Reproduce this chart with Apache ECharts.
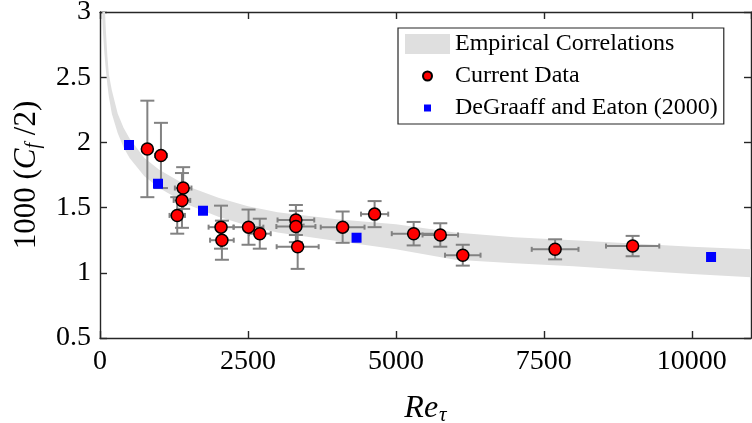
<!DOCTYPE html>
<html>
<head>
<meta charset="utf-8">
<script src="https://cdn.jsdelivr.net/npm/echarts@6/dist/echarts.min.js"></script>
<style>
  html, body { margin: 0; padding: 0; background: #fff; }
  #main { width: 752px; height: 423px; }
</style>
</head>
<body>
<div id="main"></div>
<script>
// Current data (Re_tau, 1000 Cf/2) with error bars
var reTau = [800, 1030, 1405, 1385, 1305, 2045, 2060, 2510, 2700, 3310, 3310, 3340, 4100, 4640, 5300, 5750, 6130, 7690, 9000]
var cfCur = [1.95, 1.90, 1.65, 1.555, 1.44, 1.35, 1.25, 1.35, 1.30, 1.405, 1.355, 1.20, 1.35, 1.45, 1.30, 1.29, 1.135, 1.18, 1.205]
var reErr = [80, 100, 140, 140, 130, 210, 200, 250, 185, 310, 330, 355, 370, 230, 370, 300, 300, 395, 450]
var cfErr = [0.37, 0.25, 0.16, 0.21, 0.14, 0.165, 0.15, 0.135, 0.115, 0.115, 0.12, 0.17, 0.12, 0.10, 0.09, 0.09, 0.08, 0.077, 0.078]

// DeGraaff and Eaton (2000)
var reDE = [490, 980, 1740, 4335, 10325]
var cfDE = [1.98, 1.683, 1.476, 1.269, 1.121]

// empirical correlations band
var bandRe = [40, 50, 60, 75, 100, 125, 150, 200, 300, 400, 500, 750, 1000, 1500, 2000, 2500, 3000, 4000, 5000, 6000, 7000, 8000, 9000, 10000, 11000]
var bandHi = [3.6, 3.4, 3.25, 3.1, 2.85, 2.66, 2.52, 2.4, 2.22, 2.11, 2.03, 1.88, 1.79, 1.66, 1.575, 1.51, 1.465, 1.41, 1.372, 1.31, 1.272, 1.25, 1.225, 1.2, 1.18]
var bandLo = [2.95, 2.85, 2.78, 2.68, 2.55, 2.44, 2.35, 2.22, 2.07, 1.96, 1.88, 1.74, 1.65, 1.52, 1.43, 1.36, 1.31, 1.244, 1.18, 1.1, 1.073, 1.05, 1.02, 0.99, 0.965]

var xTicks = [0, 2500, 5000, 7500, 10000]

var FONT = 'Liberation Serif'
var AXIS_COLOR = '#262626'

var myChart = echarts.init(document.getElementById('main'), null, { renderer: 'canvas' })

function renderBand(params, api) {
  if (params.dataIndex !== 0) return
  var pts = []
  for (var i = 0; i < bandRe.length; i++) pts.push(api.coord([bandRe[i], bandHi[i]]))
  for (var j = bandRe.length - 1; j >= 0; j--) pts.push(api.coord([bandRe[j], bandLo[j]]))
  var cs = params.coordSys
  return {
    type: 'polygon',
    shape: { points: pts },
    style: { fill: '#dfdfdf' },
    clipPath: { type: 'rect', shape: { x: cs.x, y: cs.y, width: cs.width, height: cs.height } }
  }
}

function renderErr(params, api) {
  var x = api.value(0)
  var y = api.value(1)
  var dx = api.value(2)
  var dy = api.value(3)
  var top = api.coord([x, y + dy])
  var bot = api.coord([x, y - dy])
  var lft = api.coord([x - dx, y])
  var rgt = api.coord([x + dx, y])
  var capW = 7 // half width of the caps on vertical bars
  var capH = 2.5 // half height of the caps on horizontal bars
  var style = { stroke: '#828282', lineWidth: 2 }
  function seg(x1, y1, x2, y2) {
    return { type: 'line', shape: { x1: x1, y1: y1, x2: x2, y2: y2 }, style: style }
  }
  return {
    type: 'group',
    children: [
      seg(lft[0], lft[1], rgt[0], rgt[1]),
      seg(lft[0], lft[1] - capH, lft[0], lft[1] + capH),
      seg(rgt[0], rgt[1] - capH, rgt[0], rgt[1] + capH),
      seg(top[0], top[1], bot[0], bot[1]),
      seg(top[0] - capW, top[1], top[0] + capW, top[1]),
      seg(bot[0] - capW, bot[1], bot[0] + capW, bot[1])
    ]
  }
}

var axisLine = { show: true, onZero: false, lineStyle: { color: AXIS_COLOR, width: 1.4 } }
var axisTick = { show: true, inside: true, length: 7, lineStyle: { color: AXIS_COLOR, width: 1.4 } }

var option = {
  animation: false,
  backgroundColor: '#fff',
  // keep the plot box fixed, labels may sit close to the edges
  grid: { left: 100, right: 1, top: 12, bottom: 85, outerBoundsMode: 'none' },
  legend: {
    orient: 'vertical',
    left: 398,
    top: 28,
    padding: [4, 6, 4, 6],
    itemGap: 8,
    itemWidth: 45,
    itemHeight: 20,
    backgroundColor: '#fff',
    borderColor: AXIS_COLOR,
    borderWidth: 1.2,
    borderRadius: 0,
    textStyle: { fontFamily: FONT, fontSize: 24, lineHeight: 20, color: '#000', padding: [0, 0, 0, 0] },
    data: [
      { name: 'Empirical Correlations', icon: 'rect', itemStyle: { color: '#dfdfdf', borderWidth: 0 } },
      { name: 'Current Data', icon: 'path://M0,0M45,20M27,10A4.5,4.5,0,1,1,18,10A4.5,4.5,0,1,1,27,10Z' },
      { name: 'DeGraaff and Eaton (2000)', icon: 'path://M0,0M45,20M19,6.5L26,6.5L26,13.5L19,13.5Z', itemStyle: { borderWidth: 0 } }
    ]
  },
  xAxis: [
    {
      type: 'value',
      position: 'bottom',
      min: 0,
      max: 11000,
      interval: 2500,
      name: '{i|Re}{s|τ}',
      nameLocation: 'middle',
      nameGap: 53,
      nameTextStyle: {
        rich: {
          i: { fontFamily: FONT, fontStyle: 'italic', fontSize: 32, color: '#000' },
          s: { fontFamily: FONT, fontStyle: 'italic', fontSize: 21, color: '#000', padding: [14, 0, 0, 1] }
        }
      },
      axisLine: axisLine,
      axisTick: axisTick,
      axisLabel: {
        fontFamily: FONT,
        fontSize: 28,
        color: '#000',
        margin: 10,
        showMaxLabel: false,
        formatter: function (v) { return xTicks.indexOf(v) >= 0 ? String(v) : '' }
      },
      splitLine: { show: false }
    },
    {
      type: 'value',
      position: 'top',
      min: 0,
      max: 11000,
      interval: 2500,
      axisLine: axisLine,
      axisTick: axisTick,
      axisLabel: { show: false },
      splitLine: { show: false }
    }
  ],
  yAxis: [
    {
      type: 'value',
      position: 'left',
      min: 0.5,
      max: 3,
      interval: 0.5,
      name: '{n|1000 (}{i|C}{s|f}{n| /2)}',
      nameLocation: 'middle',
      nameGap: 56,
      nameTextStyle: {
        rich: {
          n: { fontFamily: FONT, fontSize: 31, color: '#000' },
          i: { fontFamily: FONT, fontStyle: 'italic', fontSize: 31, color: '#000' },
          s: { fontFamily: FONT, fontStyle: 'italic', fontSize: 20, color: '#000', padding: [14, 0, 0, 0] }
        }
      },
      axisLine: axisLine,
      axisTick: axisTick,
      axisLabel: { fontFamily: FONT, fontSize: 28, color: '#000', margin: 9 },
      splitLine: { show: false }
    },
    {
      type: 'value',
      position: 'right',
      min: 0.5,
      max: 3,
      interval: 0.5,
      axisLine: axisLine,
      axisTick: axisTick,
      axisLabel: { show: false },
      splitLine: { show: false }
    }
  ],
  series: [
    {
      name: 'Empirical Correlations',
      type: 'custom',
      renderItem: renderBand,
      itemStyle: { color: '#dfdfdf' },
      data: bandRe.map(function (x, i) { return [x, bandLo[i], bandHi[i]] }),
      encode: { x: 0, y: [1, 2] },
      z: 1,
      silent: true
    },
    {
      type: 'custom',
      renderItem: renderErr,
      data: reTau.map(function (x, i) { return [x, cfCur[i], reErr[i], cfErr[i]] }),
      encode: { x: 0, y: 1 },
      z: 2,
      silent: true
    },
    {
      name: 'DeGraaff and Eaton (2000)',
      type: 'scatter',
      symbol: 'rect',
      symbolSize: 10,
      itemStyle: { color: '#0000ff', opacity: 1 },
      data: reDE.map(function (x, i) { return [x, cfDE[i]] }),
      z: 3
    },
    {
      name: 'Current Data',
      type: 'scatter',
      symbol: 'circle',
      symbolSize: 12,
      itemStyle: { color: '#ff0000', borderColor: '#000', borderWidth: 1.5, opacity: 1 },
      data: reTau.map(function (x, i) { return [x, cfCur[i]] }),
      z: 4
    }
  ]
}

myChart.setOption(option)
</script>
</body>
</html>
